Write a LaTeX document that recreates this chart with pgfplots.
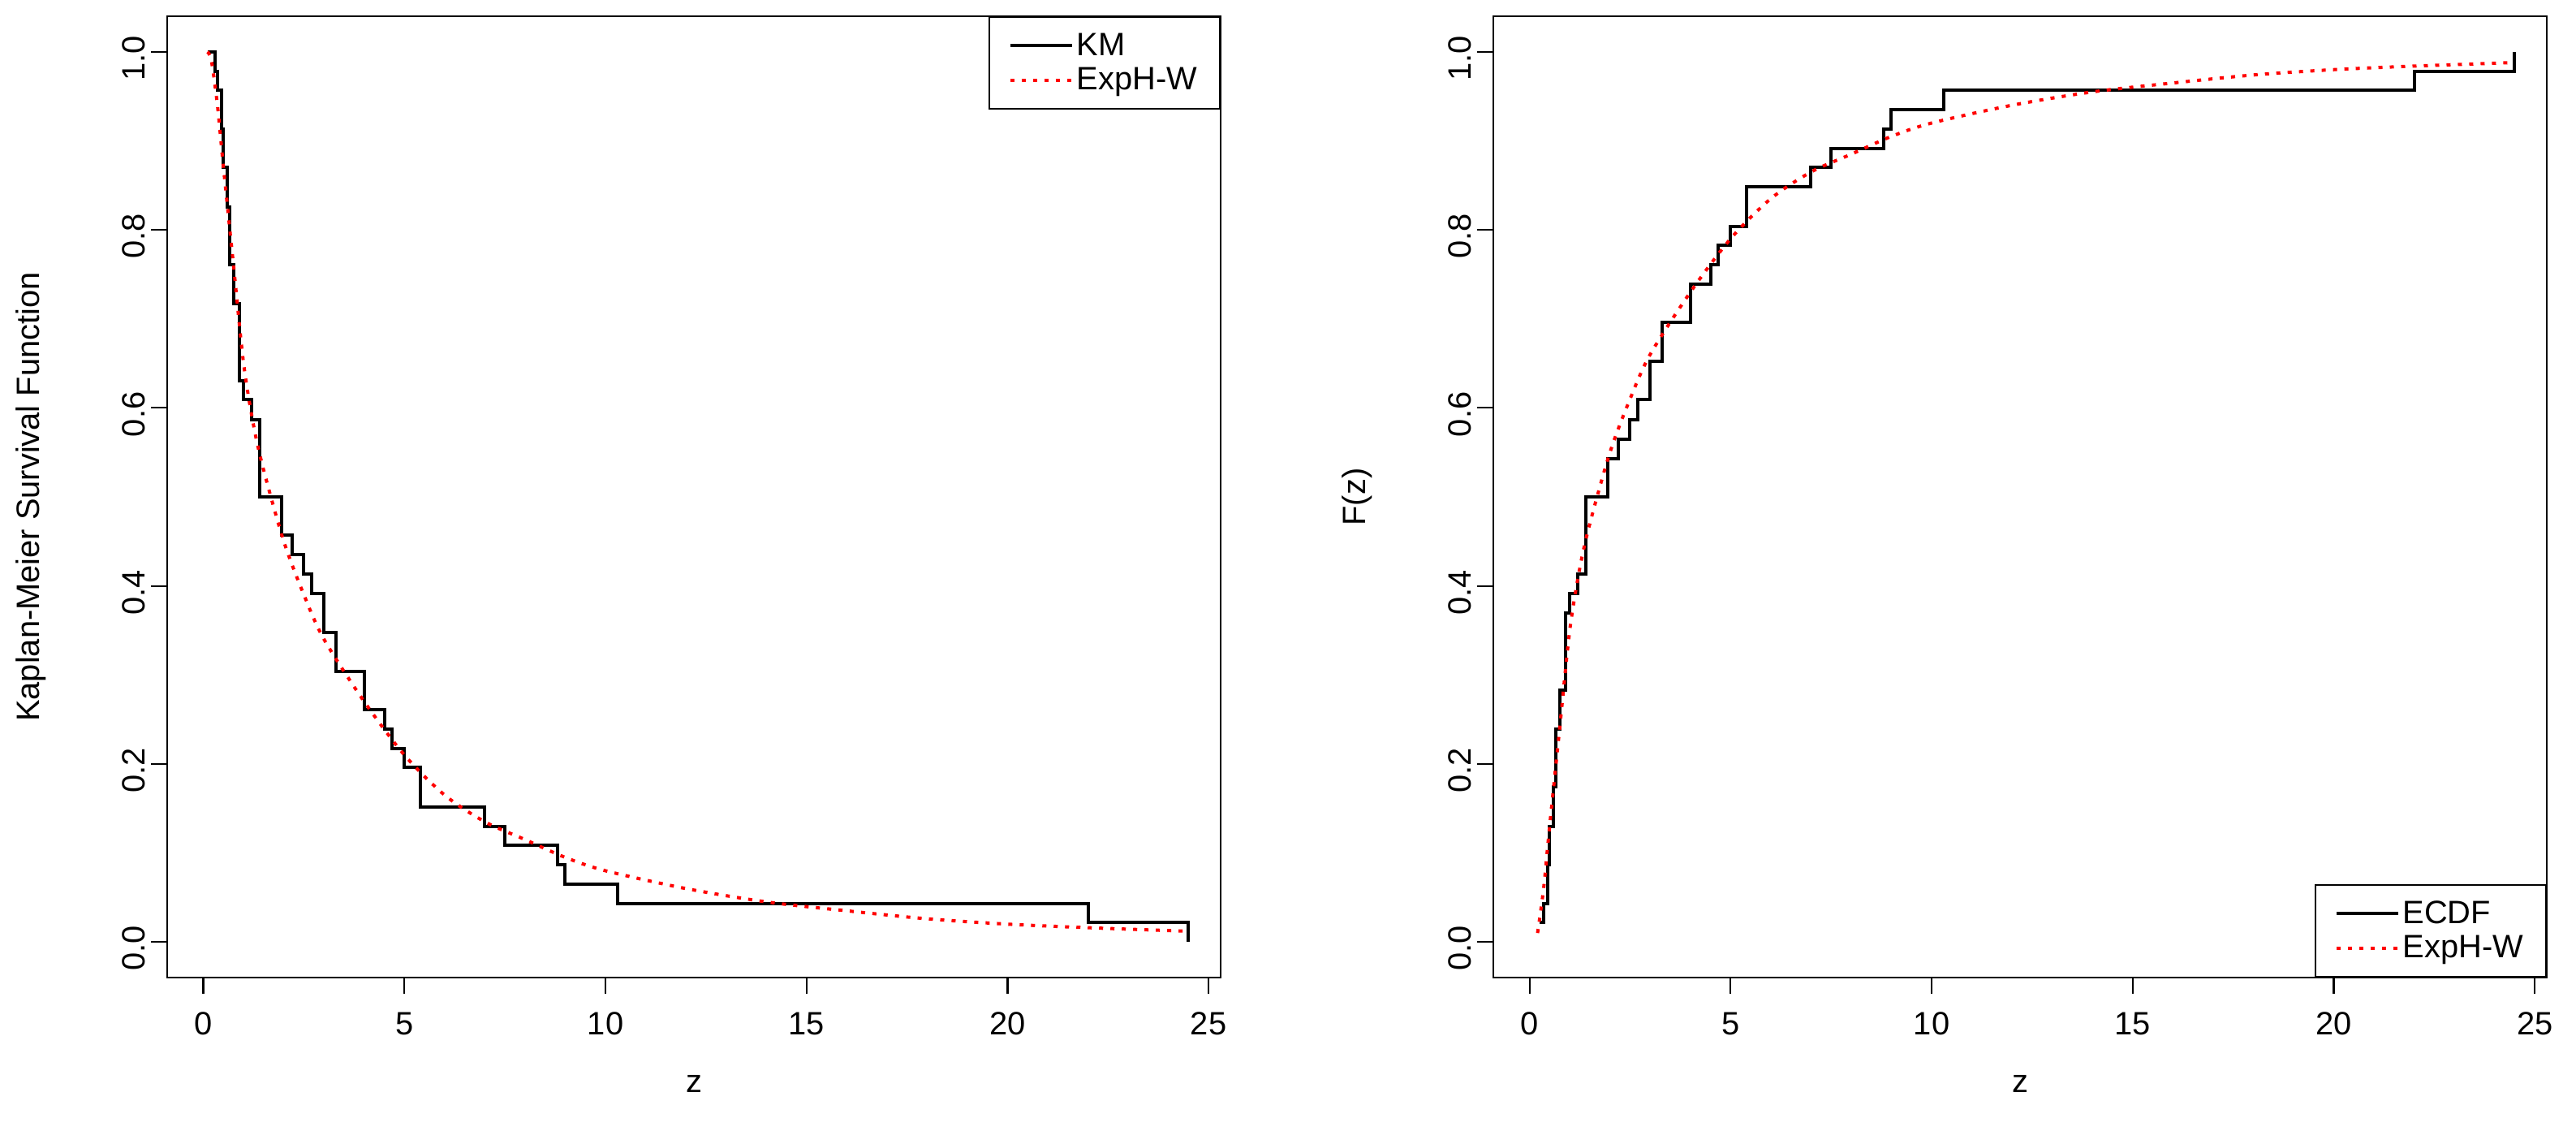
\documentclass[border=0pt]{standalone}
\usepackage{pgfplots}
\pgfplotsset{compat=1.18}
\usepackage{fontspec}
\setmainfont{Liberation Sans}
\pgfplotsset{
  rstyle/.style={
    scale only axis, width=649bp, height=592bp,
    xmin=-0.9, xmax=25.3, ymin=-0.04, ymax=1.04,
    axis line style={line width=1.1bp},
    tick align=outside, major tick length=10bp,
    xtick pos=bottom, ytick pos=left,
    tick style={line width=1.1bp, black},
    xtick={0,5,...,25}, ytick={0,0.2,...,1.0},
    yticklabel style={rotate=90, /pgf/number format/fixed, /pgf/number format/fixed zerofill, /pgf/number format/precision=1, xshift=-4bp},
    xticklabel style={yshift=-8bp},
    /pgf/number format/assume math mode=true,
    tick label style={font=\fontsize{20}{24}\selectfont},
    label style={font=\fontsize{20}{24}\selectfont},
    xlabel={z}, xlabel style={yshift=-18bp},
    legend style={font=\fontsize{20}{24}\selectfont, draw=black, line width=1.1bp, inner xsep=12bp, inner ysep=8bp, row sep=2bp, cells={anchor=west}},
    legend cell align=left,
    legend image code/.code={\draw[#1] (0bp,0bp) -- (38bp,0bp);},
  },
  km/.style={black, line width=2bp, no marks},
  fit/.style={red, line width=2bp, dash pattern=on 2.5bp off 4.5bp, no marks, smooth},
}
\begin{document}
\begin{tikzpicture}
\useasboundingbox (-103bp,-94.5bp) rectangle (1484bp,602bp);
\begin{axis}[rstyle, at={(0,0)}, anchor=south west,
  ylabel={Kaplan-Meier Survival Function}, ylabel style={yshift=40bp},
  legend style={at={(1,1)}, anchor=north east}]
\addplot[km, const plot] coordinates {
(0.1,1.0) (0.3,0.978) (0.35,0.957) (0.45,0.913) (0.5,0.870) (0.6,0.826) (0.65,0.761) (0.75,0.717) (0.9,0.630) (1.0,0.609) (1.2,0.587) (1.4,0.500) (1.95,0.457) (2.2,0.435) (2.5,0.413) (2.7,0.391) (3.0,0.348) (3.3,0.304) (4.0,0.261) (4.5,0.239) (4.7,0.217) (5.0,0.196) (5.4,0.152) (7.0,0.130) (7.5,0.109) (8.8,0.087) (9.0,0.065) (10.3,0.043) (22.0,0.022) (24.5,0.0)};
\addlegendentry{KM}
\addplot[fit] coordinates {
(0.1,1.0) (0.2,0.99) (0.35,0.94) (0.5,0.87) (0.75,0.76) (1.0,0.65) (1.25,0.58) (1.5,0.53) (2.0,0.45) (2.5,0.39) (3.0,0.34) (4.0,0.27) (5.0,0.21) (6.0,0.165) (7.0,0.135) (8.0,0.115) (9.0,0.095) (10.0,0.08) (12.0,0.06) (14.0,0.045) (16.0,0.035) (18.0,0.026) (20.0,0.02) (22.0,0.016) (24.5,0.012)};
\addlegendentry{ExpH-W}
\end{axis}
\begin{axis}[rstyle, at={(817bp,0)}, anchor=south west,
  ylabel={F(z)}, ylabel style={yshift=40bp},
  legend style={at={(1,0)}, anchor=south east}]
\addplot[km, const plot] coordinates {
(0.25,0.022) (0.35,0.043) (0.45,0.087) (0.5,0.130) (0.6,0.174) (0.65,0.239) (0.75,0.283) (0.9,0.370) (1.0,0.391) (1.2,0.413) (1.4,0.500) (1.95,0.543) (2.2,0.565) (2.5,0.587) (2.7,0.609) (3.0,0.652) (3.3,0.696) (4.0,0.739) (4.5,0.761) (4.7,0.783) (5.0,0.804) (5.4,0.848) (7.0,0.870) (7.5,0.891) (8.8,0.913) (9.0,0.935) (10.3,0.957) (22.0,0.978) (24.5,1.0)};
\addlegendentry{ECDF}
\addplot[fit] coordinates {
(0.2,0.01) (0.35,0.06) (0.5,0.13) (0.75,0.24) (1.0,0.35) (1.25,0.42) (1.5,0.47) (2.0,0.55) (2.5,0.61) (3.0,0.66) (4.0,0.73) (5.0,0.79) (6.0,0.835) (7.0,0.865) (8.0,0.885) (9.0,0.905) (10.0,0.92) (12.0,0.94) (14.0,0.955) (16.0,0.965) (18.0,0.974) (20.0,0.98) (22.0,0.984) (24.5,0.988)};
\addlegendentry{ExpH-W}
\end{axis}
\end{tikzpicture}
\end{document}
